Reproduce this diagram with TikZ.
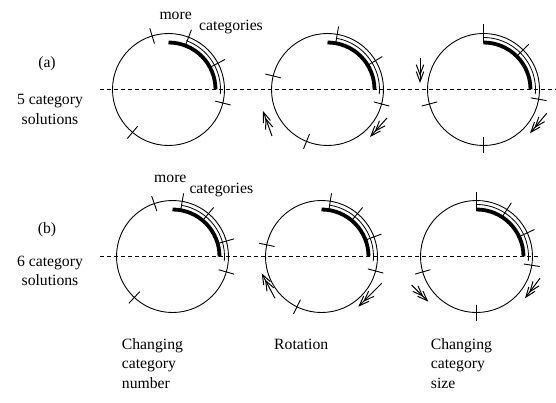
\documentclass[tikz,border=0pt]{standalone}
\usepackage{fontspec}
\setmainfont{Liberation Serif}
\usetikzlibrary{arrows.meta}
\tikzset{
  ring/.style={draw, circle, line width=0.9pt, minimum size=112pt, inner sep=0pt},
  tickmark/.style={line width=0.9pt},
  thickarc/.style={line width=3.8pt},
  thinarc/.style={line width=0.8pt},
  divider/.style={line width=0.8pt, dash pattern=on 4pt off 3pt},
  movearrow/.style={line width=1pt, -{Straight Barb[length=10pt,width=7.5pt,sep=-5pt]Straight Barb[length=10pt,width=7.5pt]}},
  txt/.style={inner sep=0pt, font=\fontsize{15.7}{19.5}\selectfont},
}
\newcommand{\ticksOn}[2]{%
  \foreach \a in {#2} \draw[tickmark] ([shift={(\a:48)}]#1.center) -- ([shift={(\a:64)}]#1.center);}
\newcommand{\arcsOn}[2]{%
  \draw[thickarc] ([shift={(90:47)}]#1.center) arc[start angle=90, end angle=0, radius=47];
  \draw[thinarc] ([shift={(#2:52)}]#1.center) arc[start angle=#2, end angle=-5, radius=52];}
\begin{document}
\begin{tikzpicture}[x=1pt,y=1pt]
\useasboundingbox (0,0) rectangle (556,402);

% row (a)
\node[ring] (c1a) at (168.5,312.5) {};
\node[ring] (c2a) at (327.5,312.5) {};
\node[ring] (c3a) at (483.5,312.5) {};
\draw[divider] (100,312.5) -- (556,312.5);
\ticksOn{c1a}{107,69,28,-14,230}
\ticksOn{c2a}{80,31,-15,166,248}
\ticksOn{c3a}{45,-10,195,270}
\draw[tickmark] ([shift={(90:46)}]c3a.center) -- ([shift={(90:65)}]c3a.center);
\arcsOn{c1a}{70}
\arcsOn{c2a}{80}
\arcsOn{c3a}{90}
\draw[movearrow] (272,266) -- (263,291);
\draw[movearrow] (387,284) -- (370,265);
\draw[movearrow] (420,344) -- (420,319);
\draw[movearrow] (546.7,288.7) -- (530,268.7);

% row (b)
\node[ring] (c1b) at (172.5,145.5) {};
\node[ring] (c2b) at (321.5,145.5) {};
\node[ring] (c3b) at (476.5,145.5) {};
\draw[divider] (100,145.5) -- (541,145.5);
\ticksOn{c1b}{109,80,50,16,-16,227}
\ticksOn{c2b}{81,50,20.5,-15,168,244}
\ticksOn{c3b}{57,25,-9,196,270}
\draw[tickmark] ([shift={(90:46)}]c3b.center) -- ([shift={(90:65)}]c3b.center);
\arcsOn{c1b}{80}
\arcsOn{c2b}{81}
\arcsOn{c3b}{90}
\draw[movearrow] (275,103.7) -- (261.7,128.7);
\draw[movearrow] (381.7,118.7) -- (358.3,95.3);
\draw[movearrow] (411.7,117) -- (428.3,100.3);
\draw[movearrow] (540,123.7) -- (525,103.7);

% texts
\node[txt, anchor=base west] (morea) at (159.3,382.5) {more};
\node[txt, anchor=base west] (cata) at (199,371.5) {categories};
\node[txt, anchor=base west] (moreb) at (154,219.3) {more};
\node[txt, anchor=base west] (catb) at (189.3,208.7) {categories};

\node[txt] (laba) at (47,338.5) {(a)};
\node[txt, anchor=base] (sola) at (50,297) {\begin{tabular}[t]{@{}c@{}}5 category\\solutions\end{tabular}};
\node[txt] (labb) at (47,172) {(b)};
\node[txt, anchor=base] (solb) at (50,136) {\begin{tabular}[t]{@{}c@{}}6 category\\solutions\end{tabular}};

\node[txt, anchor=base west] (capone) at (121.7,53) {\begin{tabular}[t]{@{}l@{}}Changing\\category\\number\end{tabular}};
\node[txt, anchor=base west] (captwo) at (274,53) {Rotation};
\node[txt, anchor=base west] (capthree) at (430.7,53) {\begin{tabular}[t]{@{}l@{}}Changing\\category\\size\end{tabular}};
\end{tikzpicture}
\end{document}
